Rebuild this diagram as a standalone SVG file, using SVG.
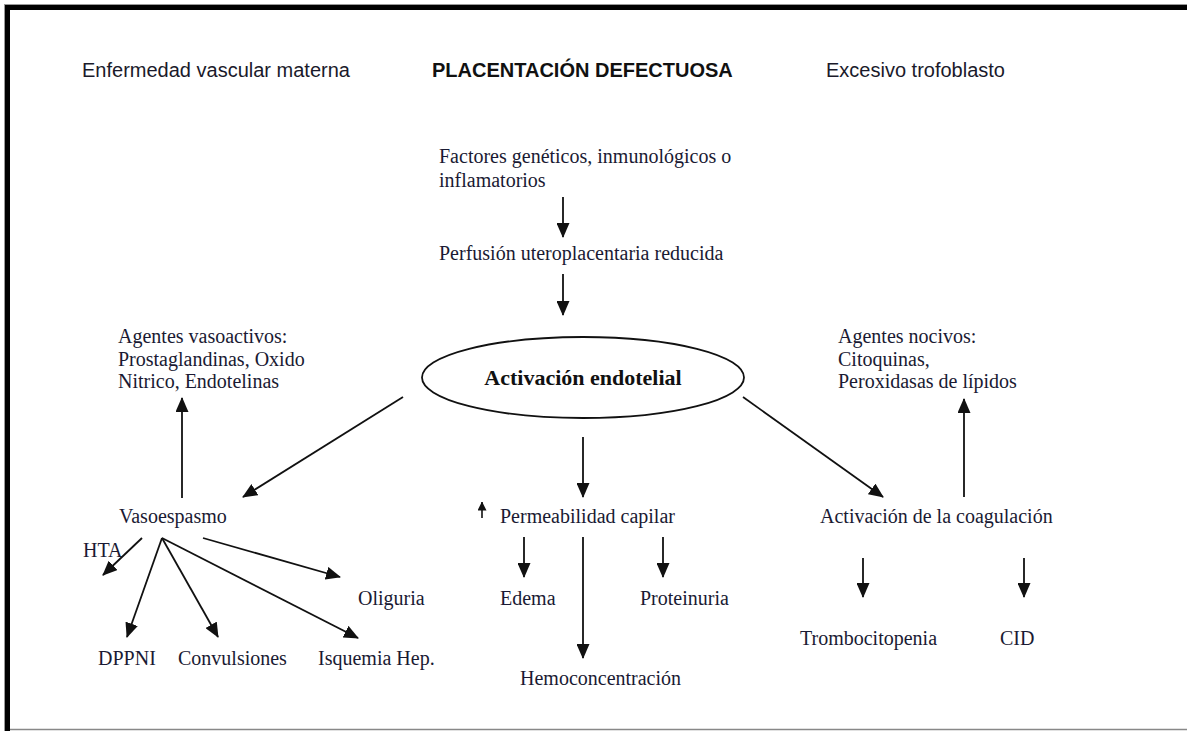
<svg xmlns="http://www.w3.org/2000/svg" width="1187" height="731" viewBox="0 0 1187 731">
<defs>
<style>
.hd{font-family:"Liberation Sans",Arial,sans-serif;font-size:20px;fill:#1a1a2a}
.hdb{font-family:"Liberation Sans",Arial,sans-serif;font-size:20px;font-weight:bold;fill:#111}
.t{font-family:"Liberation Serif","Times New Roman",serif;font-size:20px;fill:#1a1a33}
.tb{font-family:"Liberation Serif","Times New Roman",serif;font-size:22px;font-weight:bold;fill:#111}
.c{stroke:#111;stroke-width:1.8;fill:none}
.cs{stroke:#111;stroke-width:1.6;fill:none}
</style>
<marker id="ah" viewBox="0 0 15 13" refX="14" refY="6.5" markerWidth="15" markerHeight="13" markerUnits="userSpaceOnUse" orient="auto">
<path d="M0,0 L15,6.5 L0,13 Z" fill="#111"/>
</marker>
<marker id="ahs" viewBox="0 0 9 9" refX="8.5" refY="4.5" markerWidth="9" markerHeight="9" markerUnits="userSpaceOnUse" orient="auto">
<path d="M0,0 L9,4.5 L0,9 Z" fill="#111"/>
</marker>
</defs>
<rect width="1187" height="731" fill="#fff"/>
<g id="frame">
<line x1="4" y1="4.5" x2="1187" y2="4.5" stroke="#999" stroke-width="1"/>
<line x1="4.5" y1="4" x2="4.5" y2="731" stroke="#999" stroke-width="1"/>
<rect x="5" y="5" width="1182" height="5" fill="#000"/>
<rect x="5" y="5" width="5" height="726" fill="#000"/>
<line x1="10" y1="729.5" x2="1187" y2="729.5" stroke="#888" stroke-width="1.5"/>
</g>
<g id="headers">
<text id="h-left" class="hd" x="82" y="77">Enfermedad vascular materna</text>
<text id="h-center" class="hdb" x="432" y="77">PLACENTACIÓN DEFECTUOSA</text>
<text id="h-right" class="hd" x="826" y="77">Excesivo trofoblasto</text>
</g>
<g id="n-factores"><text class="t" x="439" y="163">Factores genéticos, inmunológicos o</text><text class="t" x="439" y="187">inflamatorios</text></g>
<g id="n-perfusion"><text class="t" x="439" y="260">Perfusión uteroplacentaria reducida</text></g>
<g id="n-activacion">
<ellipse cx="583" cy="377.5" rx="161" ry="40.5" fill="none" stroke="#111" stroke-width="1.8"/>
<text class="tb" x="583" y="385" text-anchor="middle">Activación endotelial</text>
</g>
<g id="n-vasoactivos"><text class="t" x="118" y="343">Agentes vasoactivos:</text><text class="t" x="118" y="365.5">Prostaglandinas, Oxido</text><text class="t" x="118" y="388">Nitrico, Endotelinas</text></g>
<g id="n-nocivos"><text class="t" x="838" y="343">Agentes nocivos:</text><text class="t" x="838" y="365.5">Citoquinas,</text><text class="t" x="838" y="388">Peroxidasas de lípidos</text></g>
<g id="n-vasoespasmo"><text class="t" x="119" y="523">Vasoespasmo</text></g>
<g id="n-permeabilidad"><text class="t" x="500" y="523">Permeabilidad capilar</text></g>
<g id="n-coagulacion"><text class="t" x="820" y="523">Activación de la coagulación</text></g>
<g id="n-hta"><text class="t" x="83" y="557">HTA</text></g>
<g id="n-oliguria"><text class="t" x="358" y="605">Oliguria</text></g>
<g id="n-dppni"><text class="t" x="98" y="665">DPPNI</text></g>
<g id="n-convulsiones"><text class="t" x="178" y="665">Convulsiones</text></g>
<g id="n-isquemia"><text class="t" x="318" y="665">Isquemia Hep.</text></g>
<g id="n-edema"><text class="t" x="500" y="605">Edema</text></g>
<g id="n-proteinuria"><text class="t" x="640" y="605">Proteinuria</text></g>
<g id="n-hemo"><text class="t" x="520" y="685">Hemoconcentración</text></g>
<g id="n-trombo"><text class="t" x="800" y="645">Trombocitopenia</text></g>
<g id="n-cid"><text class="t" x="1000" y="645">CID</text></g>
<g id="connectors">
<line class="c" x1="563" y1="197" x2="563" y2="237" marker-end="url(#ah)"/>
<line class="c" x1="563" y1="274" x2="563" y2="315" marker-end="url(#ah)"/>
<line class="c" x1="403" y1="397" x2="243" y2="497" marker-end="url(#ah)"/>
<line class="c" x1="182" y1="498" x2="182" y2="398" marker-end="url(#ah)"/>
<line class="c" x1="743" y1="397" x2="883" y2="497" marker-end="url(#ah)"/>
<line class="c" x1="964" y1="497" x2="964" y2="399" marker-end="url(#ah)"/>
<line class="c" x1="583" y1="437" x2="583" y2="497" marker-end="url(#ah)"/>
<line class="cs" x1="482" y1="518" x2="482" y2="502" marker-end="url(#ahs)"/>
<line class="c" x1="524" y1="537" x2="524" y2="577" marker-end="url(#ah)"/>
<line class="c" x1="663" y1="537" x2="663" y2="577" marker-end="url(#ah)"/>
<line class="c" x1="583" y1="537" x2="583" y2="658" marker-end="url(#ah)"/>
<line class="c" x1="863" y1="558" x2="863" y2="597" marker-end="url(#ah)"/>
<line class="c" x1="1024" y1="558" x2="1024" y2="597" marker-end="url(#ah)"/>
<line class="c" x1="142" y1="538" x2="103" y2="575" marker-end="url(#ah)"/>
<line class="c" x1="162" y1="538" x2="127" y2="637" marker-end="url(#ah)"/>
<line class="c" x1="162" y1="538" x2="218" y2="637" marker-end="url(#ah)"/>
<line class="c" x1="162" y1="538" x2="358" y2="638" marker-end="url(#ah)"/>
<line class="c" x1="203" y1="538" x2="340" y2="577" marker-end="url(#ah)"/>
</g>
</svg>
